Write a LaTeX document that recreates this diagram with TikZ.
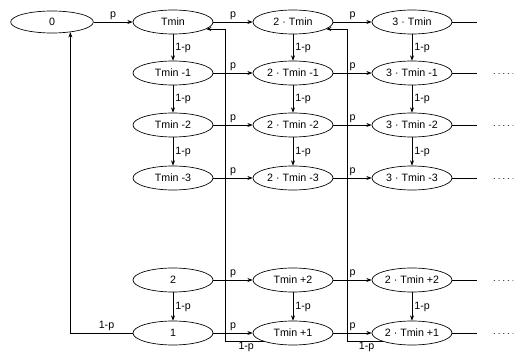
\documentclass[tikz,border=0pt]{standalone}
\usepackage{fontspec}
\setmainfont{Liberation Sans}
\usetikzlibrary{shapes.geometric,arrows.meta}
\begin{document}
\begin{tikzpicture}[x=0.75pt,y=-0.75pt,
  st/.style={ellipse,draw,line width=0.5pt,minimum width=60pt,minimum height=18pt,inner sep=0pt,font=\fontsize{8}{9}\selectfont},
  arr/.style={-{Stealth[length=4pt,width=3pt]},line width=0.5pt},
  ln/.style={line width=0.5pt},
  dotsline/.style={line width=0.5pt,dash pattern=on 0.5pt off 3pt,line cap=round,black!70},
  lab/.style={font=\fontsize{8}{9}\selectfont,inner sep=1.5pt}]
\useasboundingbox (0,0) rectangle (520,352);

% column 0
\node[st,minimum width=62pt,minimum height=16.5pt] (n0) at (52,22) {0};
% column 1
\node[st] (t0) at (173,22) {Tmin};
\node[st] (t1) at (173,73) {Tmin -1};
\node[st] (t2) at (173,125) {Tmin -2};
\node[st] (t3) at (173,178) {Tmin -3};
\node[st] (t4) at (173,280) {2};
\node[st] (t5) at (173,333) {1};
% column 2
\node[st] (u0) at (293,22) {2 · Tmin};
\node[st] (u1) at (293,73) {2 · Tmin -1};
\node[st] (u2) at (293,125) {2 · Tmin -2};
\node[st] (u3) at (293,178) {2 · Tmin -3};
\node[st] (u4) at (293,280) {Tmin +2};
\node[st] (u5) at (293,333) {Tmin +1};
% column 3
\node[st] (v0) at (412,22) {3 · Tmin};
\node[st] (v1) at (412,73) {3 · Tmin -1};
\node[st] (v2) at (412,125) {3 · Tmin -2};
\node[st] (v3) at (412,178) {3 · Tmin -3};
\node[st] (v4) at (412,280) {2 · Tmin +2};
\node[st] (v5) at (412,333) {2 · Tmin +1};

% horizontal p arrows
\draw[arr] (n0) -- node[lab,above] {p} (t0);
\foreach \i in {0,...,5}{
  \draw[arr] (t\i) -- node[lab,above] {p} (u\i);
  \draw[arr] (u\i) -- node[lab,above] {p} (v\i);
}

% vertical 1-p arrows
\foreach \c in {t,u,v}{
  \foreach \a/\b in {0/1,1/2,2/3,4/5}{
    \draw[arr] (\c\a) -- node[lab,right] {1-p} (\c\b);
  }
}

% tails and continuation dots
\foreach \i/\y in {0/22,1/73,2/125,3/178,4/280,5/333}{
  \coordinate (e\i) at (477,\y);
  \draw[ln] (v\i) -- (e\i);
}
\foreach \i/\y in {1/73,2/125,3/178,4/280,5/333}{
  \coordinate (da\i) at (494,\y);
  \coordinate (db\i) at (513,\y);
  \draw[dotsline] (da\i) -- (db\i);
}

% return paths
\draw[arr] (t5.west) -| node[lab,above,pos=0.21] {1-p} (n0.-29);
\coordinate (k1) at (225,341);
\coordinate (k2) at (347,341);
\draw[arr] (u5.196) -- node[lab,below,inner sep=0.2pt,pos=0.45] {1-p} (u5.196 -| k1) |- (t0.-12);
\draw[arr] (v5.196) -- node[lab,below,inner sep=0.2pt,pos=0.45] {1-p} (v5.196 -| k2) |- (u0.-12);
\end{tikzpicture}
\end{document}
